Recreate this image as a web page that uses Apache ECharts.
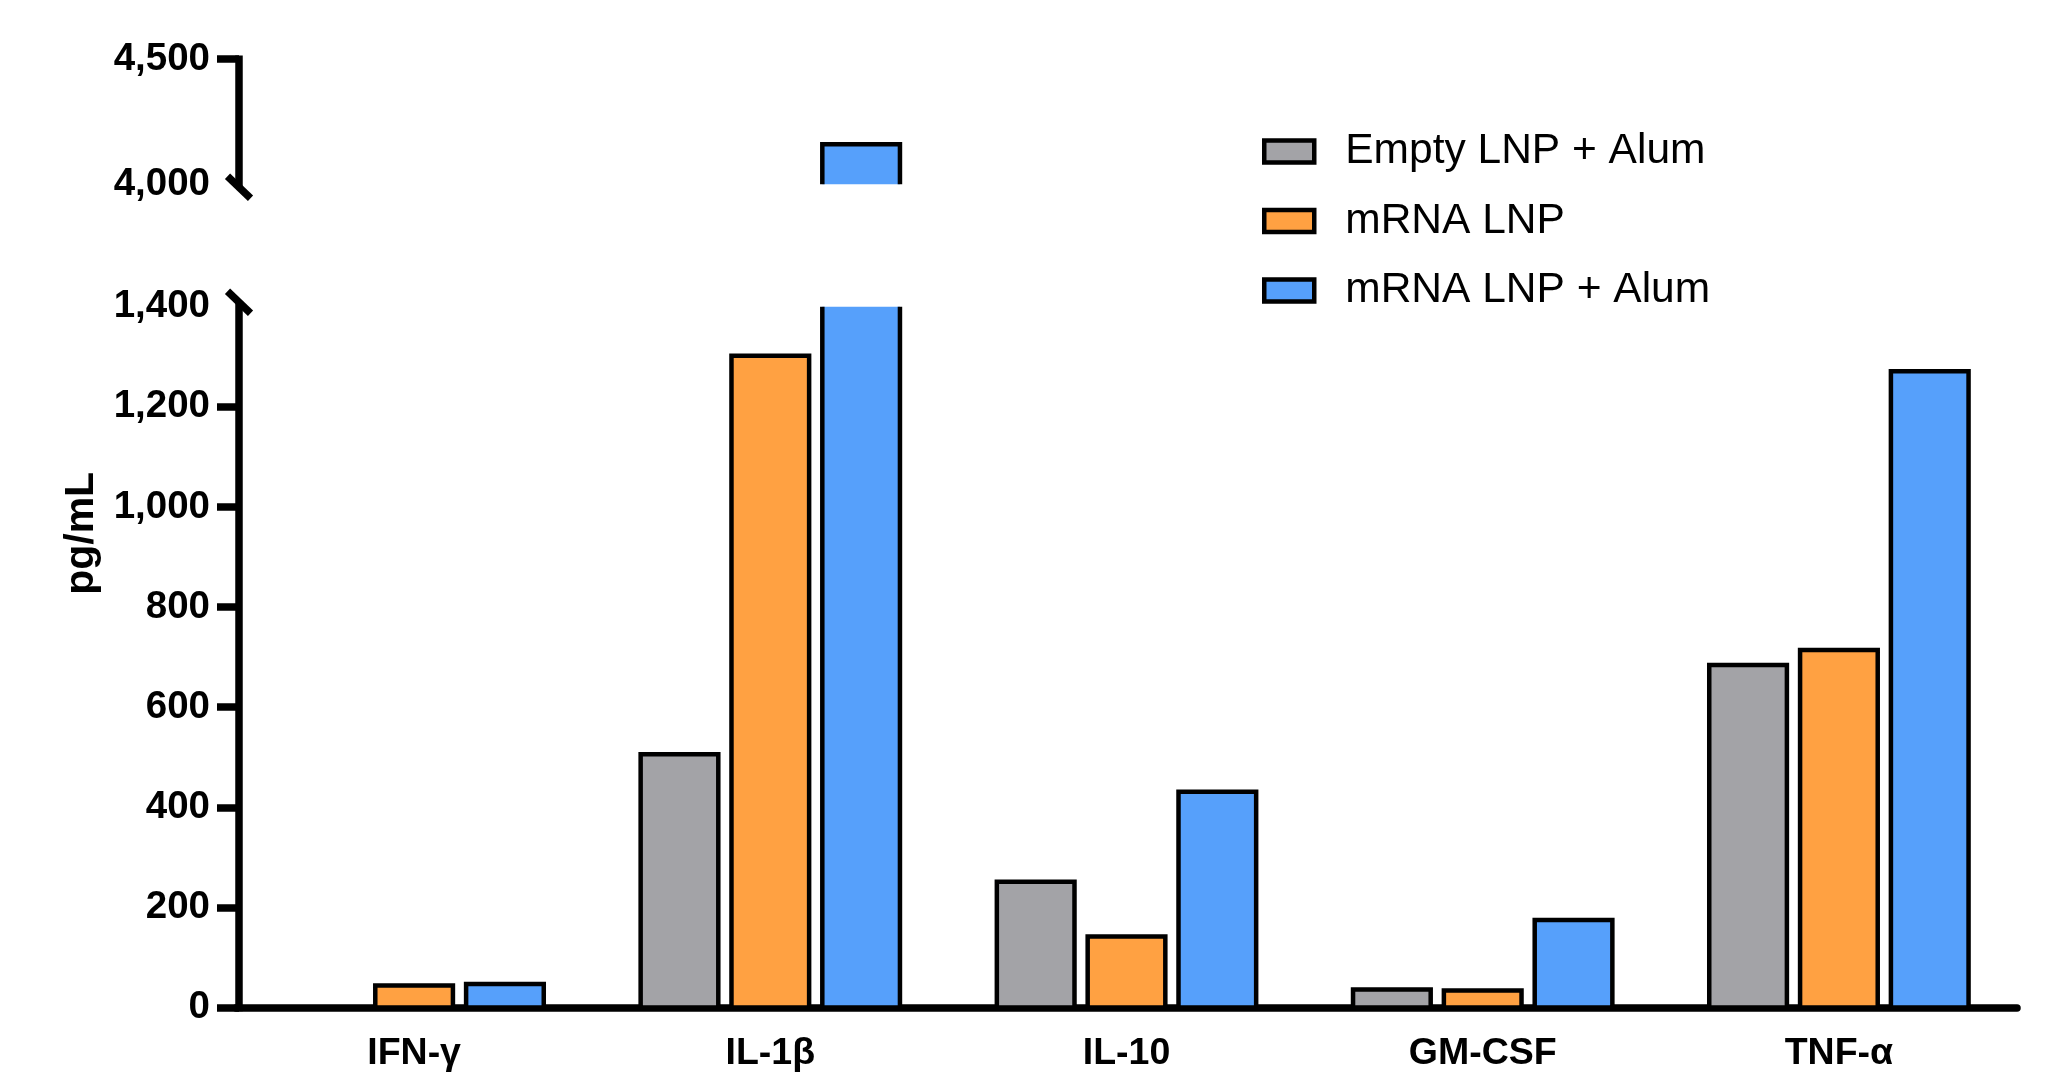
<!DOCTYPE html>
<html>
<head>
<meta charset="utf-8">
<script src="https://cdn.jsdelivr.net/npm/echarts@6/dist/echarts.min.js"></script>
<style>
html,body{margin:0;padding:0;background:#fff;}
#chart{width:2047px;height:1079px;}
</style>
</head>
<body>
<div id="chart"></div>
<script>
// ---- data ----
const categories = ['IFN-γ', 'IL-1β', 'IL-10', 'GM-CSF', 'TNF-α'];
const seriesNames = ['Empty LNP + Alum', 'mRNA LNP', 'mRNA LNP + Alum'];
const emptyLnpAlum = [0, 506, 251, 36, 684];
const mrnaLnp = [44, 1302, 142, 34, 714];
const mrnaLnpAlum = [47, 4160, 431, 175, 1271];
const lowerTickValues = [0, 200, 400, 600, 800, 1000, 1200];
const upperTickValues = [4500];
const lowerRange = [0, 1400];
const upperRange = [4000, 4500];
const yTitle = 'pg/mL';

// ---- styles ----
const colors = ['#A3A3A7', '#FFA142', '#56A0FB'];
const FONT = '"Liberation Sans", Arial, Helvetica, sans-serif';
const AX_W = 7.5;
const BORDER = 4.5;
const BAR_W = 0.218;
const BAR_STEP = 0.255;
const GRID_LEFT = 236, GRID_RIGHT = 30;
const Y_OFFSET = -3;

const values = [emptyLnpAlum, mrnaLnp, mrnaLnpAlum];

function makeRenderer(k) {
  return function (params, api) {
    const cat = api.value(0), val = api.value(1);
    if (!(val > 0)) return null;
    const cs = params.coordSys;
    const band = api.size([1, 0])[0];
    const p0 = api.coord([cat, 0]);
    const p1 = api.coord([cat, val]);
    const gTop = cs.y, gBot = cs.y + cs.height;
    if (p1[1] >= gBot) return null;
    const cx = p0[0] + (k - 1) * band * BAR_STEP;
    const x0 = cx - band * BAR_W / 2, x1 = cx + band * BAR_W / 2;
    const topClipped = p1[1] < gTop;
    const botClipped = p0[1] > gBot;
    const yT = topClipped ? gTop : p1[1];
    const yB = botClipped ? gBot : p0[1];
    const color = api.visual('color');
    const children = [{
      type: 'rect',
      shape: { x: x0, y: yT, width: x1 - x0, height: yB - yT },
      style: { fill: color, stroke: null }
    }];
    const lineStyle = { stroke: '#000', lineWidth: BORDER, fill: null, lineJoin: 'miter' };
    if (!topClipped && !botClipped) {
      children.push({ type: 'rect', shape: { x: x0, y: yT, width: x1 - x0, height: yB - yT }, style: lineStyle });
    } else if (topClipped && !botClipped) {
      children.push({ type: 'polyline', shape: { points: [[x0, yT], [x0, yB], [x1, yB], [x1, yT]] }, style: lineStyle });
    } else if (!topClipped && botClipped) {
      children.push({ type: 'polyline', shape: { points: [[x0, yB], [x0, yT], [x1, yT], [x1, yB]] }, style: lineStyle });
    } else {
      children.push({ type: 'polyline', shape: { points: [[x0, yT], [x0, yB]] }, style: lineStyle });
      children.push({ type: 'polyline', shape: { points: [[x1, yT], [x1, yB]] }, style: lineStyle });
    }
    return { type: 'group', children: children };
  };
}

const series = [];
[1, 0].forEach(function (g) {
  seriesNames.forEach(function (name, k) {
    series.push({
      type: 'custom',
      name: name,
      xAxisIndex: g,
      yAxisIndex: g,
      renderItem: makeRenderer(k),
      itemStyle: { color: colors[k], borderColor: '#000', borderWidth: BORDER },
      encode: { x: 0, y: 1 },
      data: values[k].map(function (v, i) { return [i, v]; }),
      z: 3
    });
  });
});

const fmt = function (v) { return Number(v).toLocaleString('en-US'); };

const chart = echarts.init(document.getElementById('chart'), null, { renderer: 'canvas' });
const option = {
  animation: false,
  backgroundColor: '#fff',
  textStyle: { fontFamily: FONT },
  grid: [
    { left: GRID_LEFT, right: GRID_RIGHT, top: 59.2, height: 125 },
    { left: GRID_LEFT, right: GRID_RIGHT, top: 306.7, height: 700.8 },
    { left: GRID_LEFT, right: GRID_RIGHT, top: 59.2, height: 948.3 }
  ],
  legend: {
    orient: 'vertical',
    left: 1257,
    top: 125,
    itemWidth: 50,
    itemHeight: 22,
    itemGap: 26.5,
    selectedMode: false,
    icon: 'rect',
    textStyle: { fontFamily: FONT, fontSize: 42.5, color: '#000', padding: [0, 0, 0, 26] },
    data: seriesNames.map(function (n, i) {
      return { name: n, icon: 'rect', itemStyle: { color: colors[i], borderColor: '#000', borderWidth: BORDER } };
    })
  },
  xAxis: [
    { gridIndex: 0, type: 'category', data: categories, show: false },
    {
      gridIndex: 1, type: 'category', data: categories,
      axisLine: { lineStyle: { color: '#000', width: AX_W } },
      axisTick: { alignWithLabel: true, length: 22, lineStyle: { color: '#000', width: AX_W } },
      axisLabel: { color: '#000', fontSize: 37.5, fontWeight: 'bold', fontFamily: FONT, margin: 27 },
      splitLine: { show: false }
    },
    { gridIndex: 2, type: 'category', data: categories, show: false }
  ],
  yAxis: [
    {
      gridIndex: 0, type: 'value', min: upperRange[0], max: upperRange[1], interval: 500,
      offset: Y_OFFSET,
      axisLine: { show: true, lineStyle: { color: '#000', width: AX_W, cap: 'square' } },
      axisTick: { show: true, length: 22, customValues: upperTickValues, lineStyle: { color: '#000', width: AX_W } },
      axisLabel: { color: '#000', fontSize: 38.5, fontWeight: 'bold', fontFamily: FONT, margin: 29, formatter: fmt },
      splitLine: { show: false }
    },
    {
      gridIndex: 1, type: 'value', min: lowerRange[0], max: lowerRange[1], interval: 200,
      offset: Y_OFFSET,
      axisLine: { show: true, lineStyle: { color: '#000', width: AX_W, cap: 'square' } },
      axisTick: { show: true, length: 22, customValues: lowerTickValues, lineStyle: { color: '#000', width: AX_W } },
      axisLabel: { color: '#000', fontSize: 38.5, fontWeight: 'bold', fontFamily: FONT, margin: 29, formatter: fmt },
      splitLine: { show: false }
    },
    {
      gridIndex: 2, type: 'value', min: 0, max: 1,
      name: yTitle, nameLocation: 'middle', nameGap: 134, nameRotate: 90,
      nameTextStyle: { color: '#000', fontSize: 41, fontWeight: 'bold', fontFamily: FONT },
      axisLine: { show: false }, axisTick: { show: false }, axisLabel: { show: false },
      splitLine: { show: false }
    }
  ],
  series: series
};
chart.setOption(option);

// axis break marks
const axisX = GRID_LEFT - Y_OFFSET;
const yBreakUpper = chart.convertToPixel({ yAxisIndex: 0 }, upperRange[0]) + 3;
const yBreakLower = chart.convertToPixel({ yAxisIndex: 1 }, lowerRange[1]) - 4.5;
function slash(yc) {
  return {
    type: 'line', z: 10,
    shape: { x1: axisX - 11.5, y1: yc - 11, x2: axisX + 11.5, y2: yc + 11 },
    style: { stroke: '#000', lineWidth: AX_W }
  };
}
chart.setOption({ graphic: [slash(yBreakUpper), slash(yBreakLower)] });
</script>
</body>
</html>
